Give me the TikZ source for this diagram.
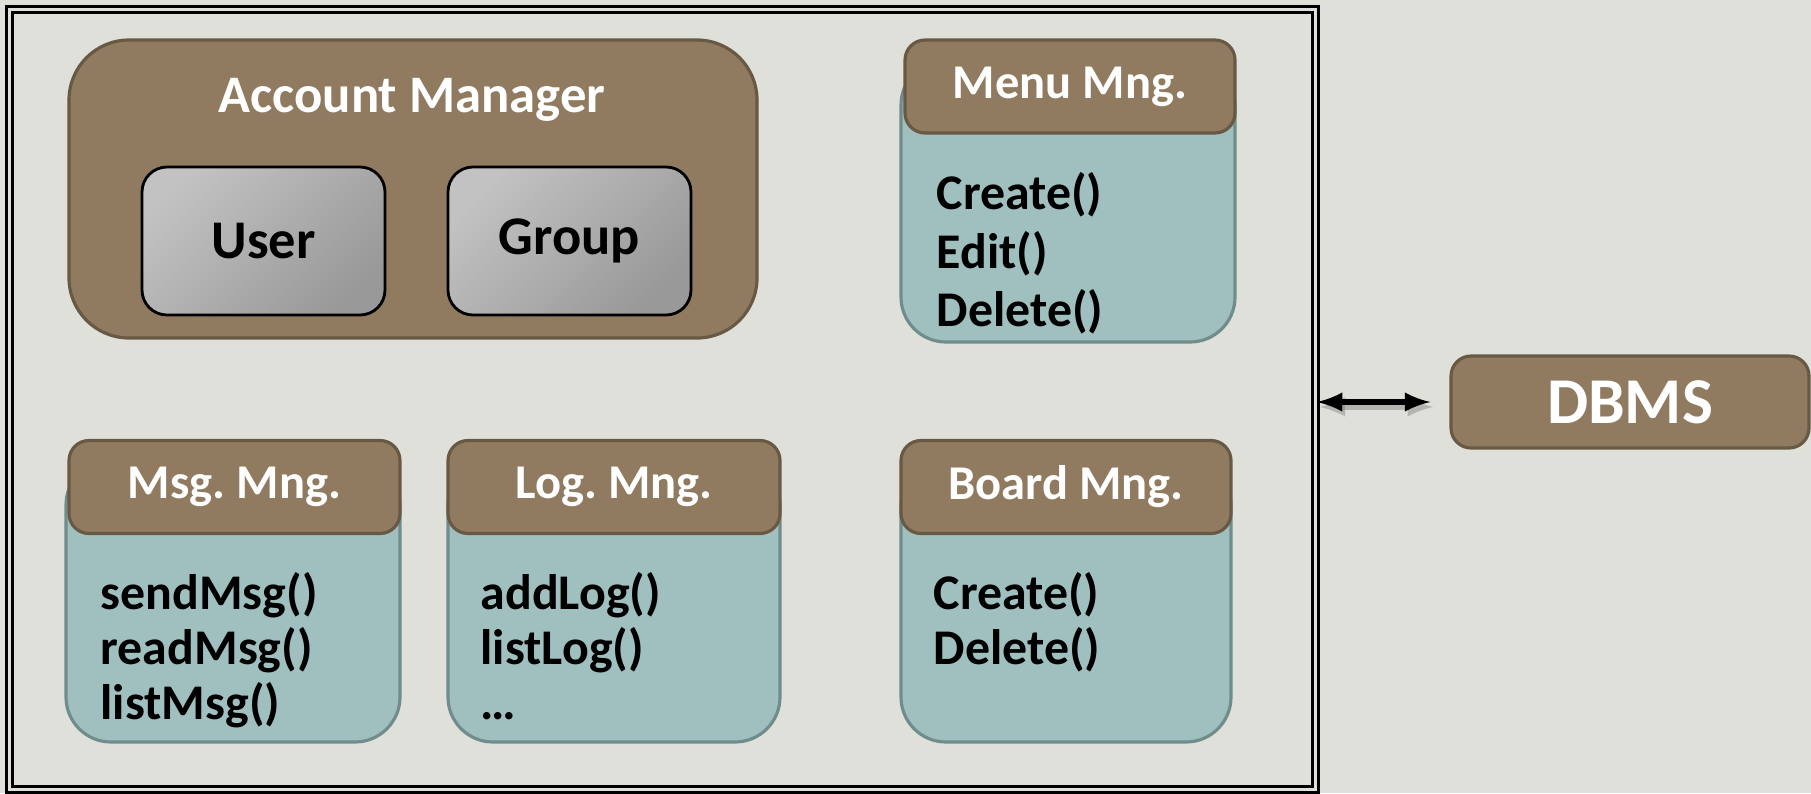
\documentclass[tikz,border=0pt]{standalone}
\usepackage{fontspec}
\setmainfont{Carlito}
\usetikzlibrary{positioning}
\frenchspacing

\definecolor{paper}{RGB}{224,224,218}
\definecolor{brownfill}{RGB}{145,123,96}
\definecolor{brownline}{RGB}{104,89,68}
\definecolor{tealfill}{RGB}{160,191,191}
\definecolor{tealline}{RGB}{112,141,140}

\begin{document}
\begin{tikzpicture}[font=\bfseries]
      \tikzset{frame/.style={draw=black,line width=.7pt,double=paper,double distance=1.1pt}}
      \tikzset{mgr/.style={draw=brownline,fill=brownfill,line width=.9pt,rounded corners=.6cm}}
      \tikzset{unit/.style={draw=black,line width=.8pt,rounded corners=.25cm,top color=gray!48,bottom color=gray!80,
          shading angle=45,font=\fontsize{15.5}{18}\bfseries}}
      \tikzset{head/.style={draw=brownline,fill=brownfill,line width=.9pt,rounded corners=.2cm,text=white,
          minimum width=3.3cm,minimum height=.93cm,font=\fontsize{13.8}{16}\bfseries}}
      \tikzset{body/.style={draw=tealline,fill=tealfill,line width=.9pt,rounded corners=.45cm,
          minimum width=3.34cm,minimum height=2.82cm}}
      \tikzset{ops/.style={anchor=north west,align=left,inner sep=0pt,font=\fontsize{14.2}{15.6}\bfseries}}
      \tikzset{link/.style={<->,>=latex,line width=1.5pt}}
      \fill[paper] (0,0) rectangle (18.11,-7.93);
      \node[frame,minimum width=13.06cm,minimum height=7.8cm] (sys) at (6.625,-3.995) {};
      \node[mgr,minimum width=6.88cm,minimum height=2.98cm] (acc) at (4.13,-1.89) {};
      \node[text=white,font=\fontsize{15}{18}\bfseries] (accT) at (4.12,-1.0) {Account Manager};
      \node[unit,minimum width=2.43cm,minimum height=1.48cm] (user) at (2.635,-2.41) {User};
      \node[unit,minimum width=2.43cm,minimum height=1.48cm] (group) at (5.695,-2.41) {Group};
      \node[body] (menuB) at (10.68,-2.01) {};
      \node[head] (menu) at (10.70,-.865) {Menu Mng.};
      \node[ops] (menuL) at (9.36,-1.72) {Create()\\[1pt]Edit()\\[1pt]Delete()};
      \node[body] (msgB) at (2.33,-6.01) {};
      \node[head,minimum width=3.31cm] (msg) at (2.345,-4.87) {Msg. Mng.};
      \node[ops] (msgL) at (1.0,-5.72) {sendMsg()\\readMsg()\\listMsg()};
      \node[body,minimum width=3.32cm] (logB) at (6.14,-6.01) {};
      \node[head,minimum width=3.32cm] (log) at (6.14,-4.87) {Log. Mng.};
      \node[ops] (logL) at (4.80,-5.72) {addLog()\\listLog()\\\dots};
      \node[body,minimum width=3.30cm] (boardB) at (10.66,-6.01) {};
      \node[head] (board) at (10.66,-4.87) {Board Mng.};
      \node[ops] (boardL) at (9.33,-5.72) {Create()\\Delete()};
      \node[head,minimum width=3.58cm,minimum height=.92cm,font=\fontsize{18.6}{22}\bfseries] (dbms) at (16.30,-4.02) {DBMS};
      \draw[link,gray,opacity=.45,transform canvas={xshift=.8pt,yshift=-1.4pt}] (sys.east |- dbms.west) -- (dbms.west) [shorten >=.19cm];
      \draw[link,shorten >=.19cm] (sys.east |- dbms.west) -- (dbms.west);
\end{tikzpicture}
\end{document}
